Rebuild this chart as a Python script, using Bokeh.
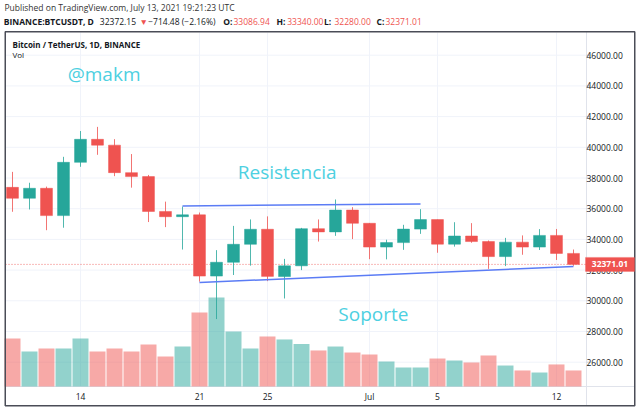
import pandas as pd
from bokeh.plotting import figure
from bokeh.models import (Range1d, FixedTicker, Label, BoxAnnotation,
                          ColumnDataSource, NumeralTickFormatter)
from bokeh.core.properties import value
from bokeh.embed import file_html
from bokeh.resources import INLINE

# ---------------- data ----------------
dates = ["2021-06-10", "2021-06-11", "2021-06-12", "2021-06-13", "2021-06-14",
         "2021-06-15", "2021-06-16", "2021-06-17", "2021-06-18", "2021-06-19",
         "2021-06-20", "2021-06-21", "2021-06-22", "2021-06-23", "2021-06-24",
         "2021-06-25", "2021-06-26", "2021-06-27", "2021-06-28", "2021-06-29",
         "2021-06-30", "2021-07-01", "2021-07-02", "2021-07-03", "2021-07-04",
         "2021-07-05", "2021-07-06", "2021-07-07", "2021-07-08", "2021-07-09",
         "2021-07-10", "2021-07-11", "2021-07-12", "2021-07-13"]
opens = [37390, 36680, 37330, 35550, 39020, 40520, 40140, 38350, 38090, 35820,
         35480, 35600, 31610, 32510, 33680, 34660, 31580, 32280, 34700, 34490,
         35910, 35050, 33500, 33790, 34670, 35290, 33690, 34220, 33860, 32880,
         33820, 33500, 34260, 33086.94]
highs = [38400, 37690, 37440, 39380, 41060, 41330, 40530, 39560, 38200, 36460,
         36140, 35750, 33300, 34880, 35300, 35500, 32730, 34750, 35300, 36600,
         36100, 35060, 33980, 34950, 35970, 35290, 35120, 35060, 33930, 34100,
         34260, 34670, 34680, 33340.00]
lows = [35800, 35950, 34600, 34760, 38730, 39510, 38120, 37370, 35130, 34800,
        33340, 31250, 28810, 31680, 32290, 31280, 30150, 32000, 33860, 34230,
        34020, 32710, 32700, 33320, 34360, 33130, 33530, 33780, 32080, 32260,
        33000, 33310, 32660, 32280.00]
closes = [36680, 37330, 35550, 39020, 40520, 40140, 38350, 38090, 35820, 35480,
          35600, 31610, 32510, 33680, 34660, 31590, 32280, 34700, 34490, 35910,
          35050, 33500, 33790, 34670, 35290, 33690, 34220, 33860, 32880, 33820,
          33500, 34260, 33086.63, 32371.01]
volumes = [68.0, 49.6, 53.8, 53.8, 68.0, 49.6, 53.8, 49.6, 59.5, 42.5,
           56.6, 104.8, 126.0, 77.9, 53.8, 70.8, 66.6, 60.2, 51.0, 56.6,
           48.1, 45.3, 35.4, 26.9, 26.9, 39.6, 36.8, 34.0, 43.9, 29.7,
           22.7, 19.8, 31.2, 22.7]  # thousand BTC

tick_dates = ["2021-06-14", "2021-06-21", "2021-06-25", "2021-07-01", "2021-07-05", "2021-07-12"]
tick_labels = ["14", "21", "25", "Jul", "5", "12"]
price_ticks = [26000, 28000, 30000, 32000, 34000, 36000, 38000, 40000, 42000, 44000, 46000]

resistance_dates = ["2021-06-20", "2021-07-04"]
resistance_prices = [36180, 36310]
support_dates = ["2021-06-21", "2021-07-13"]
support_prices = [31190, 32240]

note_dates = ["2021-06-13 06:00", "2021-06-23 06:00", "2021-06-29 04:00"]
note_prices = [44760, 38380, 29120]
note_texts = ["@makm", "Resistencia", "Soporte"]

header_line1 = "Published on TradingView.com, July 13, 2021 19:21:23 UTC"
symbol_text = "BINANCE:BTCUSDT, D"
last_trade = "32372.15"
change_text = "\u2212714.48 (\u22122.16%)"
chart_title = "Bitcoin / TetherUS, 1D, BINANCE"

# ---------------- styling / geometry ----------------
UP = "#26a69a"
DOWN = "#ef5350"
GRID = "#f0f3fa"
SEP = "#e0e3eb"
TEXT = "#131722"
NOTE = "#4dd0e1"
LINE = "#5b7cf5"
BOX = "#4a4d57"
FONT = "Open Sans"

DAY = 86400000
W, H = 640, 412
DAY_PX = 17.0
ANCHOR = pd.Timestamp("2021-06-14")
ANCHOR_PX = 80.0
PX_PER_USD = 0.01535
USD_REF, USD_REF_PX = 46000, 54.7
VOL_BASE_PX = 386.0
VOL_PER_PX = 126.0 / 89.0

CHART_L, CHART_R, CHART_T, CHART_B = 5, 586, 32, 386
BOX_L, BOX_R, BOX_T, BOX_B = 4.75, 634.25, 31.25, 405.25


def fx(px):
    return ANCHOR + pd.Timedelta(days=(px - ANCHOR_PX) / DAY_PX)


def fy(py):
    return USD_REF + (USD_REF_PX - py) / PX_PER_USD


t = pd.to_datetime(dates)
up = [c >= o for o, c in zip(opens, closes)]
src = ColumnDataSource(dict(
    t=t, o=opens, h=highs, l=lows, c=closes, v=volumes,
    top=[max(o, c) for o, c in zip(opens, closes)],
    bot=[min(o, c) for o, c in zip(opens, closes)],
    col=[UP if u else DOWN for u in up],
))

p = figure(width=W, height=H, x_axis_type="datetime", y_axis_location="right",
           x_range=Range1d(fx(0), fx(W)), y_range=Range1d(fy(H), fy(0)),
           output_backend="svg", toolbar_location=None,
           min_border_left=0, min_border_right=0, min_border_top=0, min_border_bottom=0)
p.extra_y_ranges = {"vol": Range1d(-(H - VOL_BASE_PX) * VOL_PER_PX, VOL_BASE_PX * VOL_PER_PX)}
p.background_fill_color = "white"
p.border_fill_color = "white"
p.outline_line_color = None
p.xgrid.visible = False
p.ygrid.visible = False

# price axis (labels drawn in the strip on the right)
ya = p.yaxis[0]
ya.ticker = FixedTicker(ticks=price_ticks)
ya.formatter = NumeralTickFormatter(format="0.00")
ya.major_label_text_font = FONT
ya.major_label_text_font_size = "8.5px"
ya.major_label_text_color = TEXT
ya.major_tick_out = 0
ya.major_tick_in = 0
ya.major_tick_line_color = None
ya.minor_tick_line_color = None
ya.axis_line_color = None
ya.major_label_standoff = -54

# time axis
xa = p.xaxis[0]
tick_ms = [int(pd.Timestamp(d).value // 10**6) for d in tick_dates]
xa.ticker = FixedTicker(ticks=tick_ms)
xa.major_label_overrides = {ms: lab for ms, lab in zip(tick_ms, tick_labels)}
xa.major_label_text_font = FONT
xa.major_label_text_font_size = "8.5px"
xa.major_label_text_color = TEXT
xa.major_tick_out = 0
xa.major_tick_in = 0
xa.major_tick_line_color = None
xa.minor_tick_line_color = None
xa.axis_line_color = None
xa.major_label_standoff = -22

# grid lines limited to the chart pane
n = len(price_ticks)
p.segment(x0=[fx(CHART_L)] * n, x1=[fx(CHART_R)] * n, y0=price_ticks, y1=price_ticks,
          line_color=GRID, line_width=1)
m = len(tick_dates)
td = pd.to_datetime(tick_dates)
p.segment(x0=td, x1=td, y0=[fy(CHART_B)] * m, y1=[fy(CHART_T)] * m,
          line_color=GRID, line_width=1)

# pane separators and price-axis tick marks
p.segment(x0=[fx(CHART_R)], x1=[fx(CHART_R)], y0=[fy(BOX_T)], y1=[fy(BOX_B)],
          line_color=SEP, line_width=1)
p.segment(x0=[fx(BOX_L)], x1=[fx(BOX_R)], y0=[fy(CHART_B)], y1=[fy(CHART_B)],
          line_color=SEP, line_width=1)
p.segment(x0=[fx(CHART_R)] * n, x1=[fx(CHART_R + 4)] * n, y0=price_ticks, y1=price_ticks,
          line_color="#c8cbd3", line_width=1)

# volume
p.vbar(x="t", top="v", bottom=0, width=0.94 * DAY, source=src, y_range_name="vol",
       fill_color="col", fill_alpha=0.5, line_color=None)

# last price dotted line
p.segment(x0=[fx(CHART_L)], x1=[fx(CHART_R)], y0=[closes[-1]], y1=[closes[-1]],
          line_color=DOWN, line_dash="1 2", line_alpha=0.8, line_width=1)

# candles
p.segment(x0="t", y0="h", x1="t", y1="l", source=src, line_color="col",
          line_width=1, line_alpha=0.8)
p.vbar(x="t", top="top", bottom="bot", width=0.7 * DAY, source=src,
       fill_color="col", line_color="col", line_width=0.5)

# drawings
p.line(pd.to_datetime(resistance_dates), resistance_prices, line_color=LINE, line_width=1.5)
p.line(pd.to_datetime(support_dates), support_prices, line_color=LINE, line_width=1.5)
p.text(x=pd.to_datetime(note_dates), y=note_prices, text=note_texts,
       text_font=value(FONT), text_font_size="19px", text_color=NOTE,
       text_baseline="alphabetic", text_align="left")

# outer box
p.quad(left=[fx(BOX_L)], right=[fx(BOX_R)], top=[fy(BOX_T)], bottom=[fy(BOX_B)],
       fill_color=None, line_color=BOX, line_width=1.5)

# last price tag
p.add_layout(BoxAnnotation(left=585, right=634,
                           top=closes[-1] + 7 / PX_PER_USD,
                           bottom=closes[-1] - 7 / PX_PER_USD,
                           left_units="canvas", right_units="canvas",
                           fill_color=DOWN, fill_alpha=1, line_color=DOWN,
                           level="overlay"))
p.add_layout(Label(x=609.5, y=closes[-1], x_units="canvas", text=f"{closes[-1]:.2f}",
                   text_color="white", text_font=FONT, text_font_size="8.5px",
                   text_font_style="bold", text_align="center", text_baseline="middle",
                   level="overlay"))


def lab(x, y, text, color=TEXT, bold=False, size="8.5px"):
    p.add_layout(Label(x=x, y=y, x_units="canvas", y_units="canvas", text=text,
                       text_color=color, text_font=FONT, text_font_size=size,
                       text_font_style="bold" if bold else "normal",
                       text_baseline="alphabetic", text_align="left", level="overlay"))


lab(4, 7.2, header_line1, color="#333333")
segs = [
    (symbol_text, 3.3, TEXT, True),
    (last_trade, 99.3, TEXT, False),
    ("\u25bc", 139, DOWN, False),
    (change_text, 147.7, TEXT, False),
    ("O:", 222.7, TEXT, True),
    (f"{opens[-1]:.2f}", 233, DOWN, False),
    ("H:", 276, TEXT, True),
    (f"{highs[-1]:.2f}", 286.7, DOWN, False),
    ("L:", 323.5, TEXT, True),
    (f"{lows[-1]:.2f}", 334, DOWN, False),
    ("C:", 376, TEXT, True),
    (f"{closes[-1]:.2f}", 385, DOWN, False),
]
for txt, x, colr, b in segs:
    lab(x, 20.6, txt, color=colr, bold=b)

lab(12, 44.2, chart_title, bold=True, size="8px")
lab(12, 54.0, "Vol", size="8px")

open("out.html", "w").write(file_html(p, INLINE))
